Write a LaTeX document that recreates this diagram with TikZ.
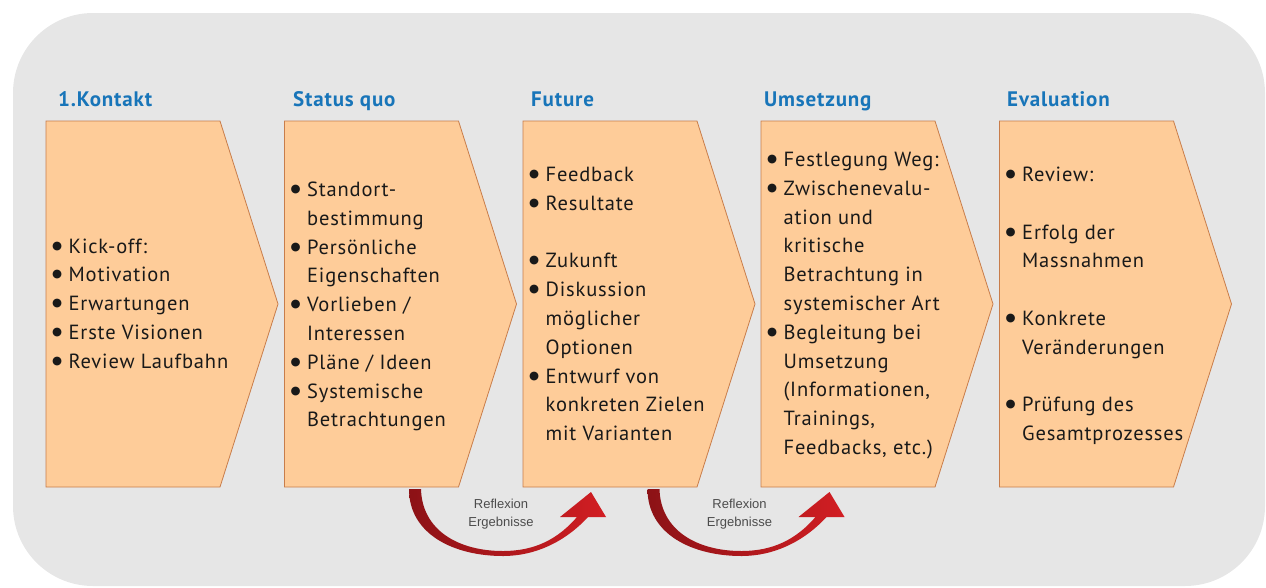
\documentclass[tikz,border=0pt]{standalone}
\usepackage{fontspec}
\setmainfont{PT Sans}[LetterSpace=4]
\newfontfamily\lblfont{Liberation Sans}
\newfontfamily\dejavu{DejaVu Sans}
\definecolor{bg}{RGB}{230,230,230}
\definecolor{peach}{RGB}{254,204,153}
\definecolor{boxedge}{RGB}{200,125,75}
\definecolor{ttl}{RGB}{24,117,185}
\definecolor{dred}{RGB}{140,18,22}
\definecolor{bred}{RGB}{210,30,35}
\newcommand{\bdot}{\makebox[14pt][l]{\hspace{-2.5pt}\raisebox{4pt}{\dejavu\fontsize{11.5}{11.5}\selectfont ●}}}
\newcommand{\bl}[1]{\hbox{\bdot#1}}
\newcommand{\cl}[1]{\hbox{\hspace{14pt}#1}}
\newcommand{\el}{\hbox{}}
\tikzset{
  chev/.style={fill=peach, draw=boxedge, line width=0.8pt, line join=miter},
  ttlstyle/.style={anchor=base west, inner sep=0pt, text=ttl, font=\fontsize{21}{24}\selectfont\bfseries},
  txt/.style={anchor=base west, inner sep=0pt, text=black!90, font=\fontsize{20.5}{28.8}\selectfont},
  refl/.style={align=center, inner sep=0pt, text=black!70, font=\lblfont\fontsize{13}{17.5}\selectfont},
  redarrow/.style={left color=dred, right color=bred}
}
\begin{document}
\begin{tikzpicture}[x=1pt, y=-1pt]
\useasboundingbox (0,0) rectangle (1266,587);
\fill[bg, rounded corners=80pt] (13,13) rectangle (1265,586);
% chevrons
\foreach \L in {46,284.5,523,761,999.5}{
  \draw[chev] (\L,121) -- ++(174,0) -- ++(58,183) -- ++(-58,183) -- ++(-174,0) -- cycle;
}
% titles
\node[ttlstyle] (h1) at (58,106.5) {1.Kontakt};
\node[ttlstyle] (h2) at (293,106.5) {Status quo};
\node[ttlstyle] (h3) at (531,106.5) {Future};
\node[ttlstyle] (h4) at (764,106.5) {Umsetzung};
\node[ttlstyle] (h5) at (1007,106.5) {Evaluation};
% texts
\node[txt] (t1) at (54.5,253) {\vtop{\bl{Kick-off:}\bl{Motivation}\bl{Erwartungen}\bl{Erste Visionen}\bl{Review Laufbahn}}};
\node[txt] (t2) at (293,196.5) {\vtop{\bl{Standort-}\cl{bestimmung}\bl{Persönliche}\cl{Eigenschaften}\bl{Vorlieben /}\cl{Interessen}\bl{Pläne / Ideen}\bl{Systemische}\cl{Betrachtungen}}};
\node[txt] (t3) at (531.5,181.5) {\vtop{\bl{Feedback}\bl{Resultate}\el\bl{Zukunft}\bl{Diskussion}\cl{möglicher}\cl{Optionen}\bl{Entwurf von}\cl{konkreten Zielen}\cl{mit Varianten}}};
\node[txt] (t4) at (769.5,166.5) {\vtop{\bl{Festlegung Weg:}\bl{Zwischenevalu-}\cl{ation und}\cl{kritische}\cl{Betrachtung in}\cl{systemischer Art}\bl{Begleitung bei}\cl{Umsetzung}\cl{(Informationen,}\cl{Trainings,}\cl{Feedbacks, etc.)}}};
\node[txt] (t5) at (1008,181.5) {\vtop{\bl{Review:}\el\bl{Erfolg der}\cl{Massnahmen}\el\bl{Konkrete}\cl{Veränderungen}\el\bl{Prüfung des}\cl{Gesamtprozesses}}};
% red reflection arrows
\foreach \dx/\n in {0/a,238.5/b}{
  \begin{scope}[xshift=\dx]
  \shade[redarrow] (409,489) .. controls (409,535) and (455,556) .. (503,556)
     .. controls (535,556) and (565,542) .. (588,517) -- (606,517) -- (591,492) -- (560,517) -- (577,517)
     .. controls (558,539) and (535,551) .. (503,551)
     .. controls (458,551) and (422,530) .. (421,489) -- cycle;
  \node[refl] (r\n) at (501,514) {Reflexion\\Ergebnisse};
  \end{scope}
}
\end{tikzpicture}
\end{document}
